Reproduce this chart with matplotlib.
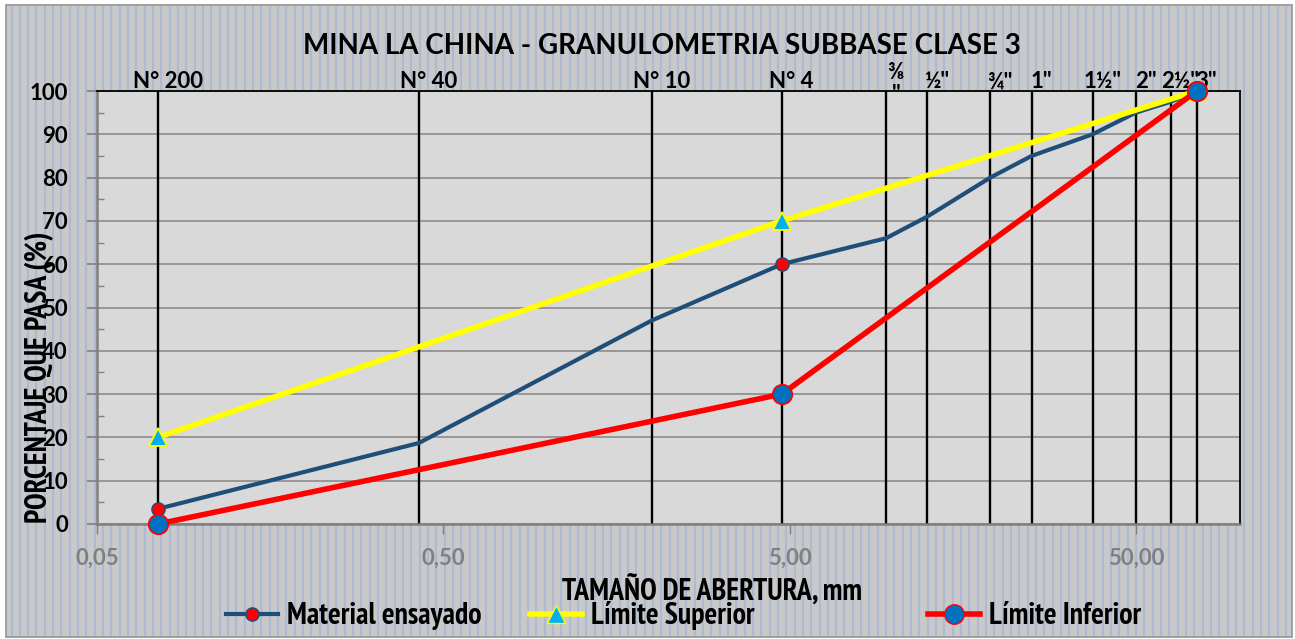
import matplotlib
matplotlib.use('Agg')
import matplotlib.pyplot as plt
from matplotlib.lines import Line2D
from matplotlib.patches import Rectangle
from matplotlib.ticker import FixedLocator, NullLocator
import numpy as np

# ---------------- data ----------------
sieve_sizes = [0.075, 0.425, 2.0, 4.75, 9.5, 12.5, 19.0, 25.0, 37.5, 50.0, 63.0, 75.0]
sieve_labels = ['N° 200', 'N° 40', 'N° 10', 'N° 4', '⅜\n"', '½"', '¾"', '1"', '1½"', '2"', '2½"', '3"']
material_pct = [3.5, 18.7, 47, 60, 66, 71, 80, 85, 90, 95, 97.5, 100]
limit_sizes = [0.075, 4.75, 75.0]
upper_pct = [20, 70, 100]
lower_pct = [0, 30, 100]
x_ticks = [0.05, 0.5, 5.0, 50.0]
x_tick_labels = ['0,05', '0,50', '5,00', '50,00']
y_ticks = list(range(0, 101, 10))
y_minor = list(range(5, 100, 10))

plt.rcParams['font.family'] = ['Lato', 'DejaVu Sans']
plt.rcParams['font.weight'] = 'bold'
NARROW = ['PT Sans Narrow', 'Archivo Narrow', 'DejaVu Sans']
NARROW_SIZE = 21.5

W, H = 1295, 639
fig = plt.figure(figsize=(W / 100, H / 100), dpi=100)
fig.patch.set_facecolor('white')

# background with striped pattern
bg = fig.add_axes([0, 0, 1, 1], zorder=-10)
bg.set_xlim(0, W)
bg.set_ylim(H, 0)
bg.axis('off')
bg.add_patch(Rectangle((6, 5), 1286, 632, facecolor='#C9C9C9', edgecolor='#9A9A9A', lw=1.3))
stripe_x = np.arange(11.5, 1290, 8.33)
bg.vlines(stripe_x, 6, 636, colors='#ADBAD3', lw=1.6)

# main axes
ax = fig.add_axes([97 / W, 1 - 524 / H, (1240 - 97) / W, (524 - 91) / H])
ax.set_facecolor('#D9D9D9')
ax.set_xscale('log')
ax.set_xlim(0.05, 100)
ax.set_ylim(0, 100)

ax.yaxis.grid(True, which='major', color='#8C8C8C', lw=1.2)
ax.set_axisbelow(True)
ax.vlines(sieve_sizes, 0, 100, colors='black', lw=1.7, zorder=2)

ax.plot(sieve_sizes, material_pct, color='#1F4E79', lw=3, marker='o', ms=9.5,
        mfc='#FF0000', mec='#1F4E79', mew=1, markevery=[0, 3, 11], zorder=4, clip_on=False)
ax.plot(limit_sizes, upper_pct, color='#FFFF00', lw=4, marker='^', ms=13,
        mfc='#00B0F0', mec='#FFFF00', mew=1.3, zorder=5, clip_on=False)
ax.plot(limit_sizes, lower_pct, color='#FF0000', lw=4, marker='o', ms=14,
        mfc='#0070C0', mec='#FF0000', mew=1.3, zorder=6, clip_on=False)

# ticks
ax.set_xticks(x_ticks)
ax.set_xticklabels(x_tick_labels)
ax.xaxis.set_minor_locator(NullLocator())
ax.tick_params(axis='x', which='major', direction='out', length=7, width=1,
               color='#808080', labelcolor='#808080', pad=10, labelsize=16)
ax.set_yticks(y_ticks)
ax.yaxis.set_minor_locator(FixedLocator(y_minor))
ax.tick_params(axis='y', which='major', direction='out', length=7, width=1.2,
               color='#808080', labelcolor='black', pad=14, labelsize=16)
ax.tick_params(axis='y', which='minor', direction='in', length=5, width=1, color='#808080')
for lab in ax.get_xticklabels() + ax.get_yticklabels():
    lab.set_fontweight('bold')

for s in ('top', 'right'):
    ax.spines[s].set_color('black')
    ax.spines[s].set_linewidth(1.3)
for s in ('left', 'bottom'):
    ax.spines[s].set_color('#7F7F7F')
    ax.spines[s].set_linewidth(1.8)

# sieve labels above the plot
for size, lab in zip(sieve_sizes, sieve_labels):
    dy = -7.5 if '\n' in lab else 2
    ax.annotate(lab, xy=(size, 1), xycoords=('data', 'axes fraction'),
                xytext=(7, dy), textcoords='offset points', ha='center', va='baseline',
                fontsize=16, fontweight='bold', color='black', linespacing=1.1,
                family=['Lato', 'DejaVu Sans'], annotation_clip=False)

# titles and axis labels
fig.text(662 / W, 1 - 46 / H, 'MINA LA CHINA - GRANULOMETRIA SUBBASE CLASE 3',
         ha='center', va='center', fontsize=20, fontweight='bold', color='black')
fig.text(712 / W, 1 - 590 / H, 'TAMAÑO DE ABERTURA, mm', ha='center', va='center',
         fontsize=NARROW_SIZE, fontweight='bold', family=NARROW, color='black')
fig.text(39 / W, 1 - 377 / H, 'PORCENTAJE QUE PASA (%)', ha='center', va='center',
         rotation=90, fontsize=NARROW_SIZE, fontweight='bold', family=NARROW, color='black')

# legends
handles = [
    Line2D([], [], color='#1F4E79', lw=3, marker='o', ms=9.5, mfc='#FF0000', mec='#1F4E79'),
    Line2D([], [], color='#FFFF00', lw=4, marker='^', ms=13, mfc='#00B0F0', mec='#FFFF00'),
    Line2D([], [], color='#FF0000', lw=4, marker='o', ms=14, mfc='#0070C0', mec='#FF0000'),
]
names = ['Material ensayado', 'Límite Superior', 'Límite Inferior']
starts = [226, 530, 928]
for h, n, x0 in zip(handles, names, starts):
    fig.legend([h], [n], loc='center left', bbox_to_anchor=(x0 / W, 1 - 616 / H),
               frameon=False, borderpad=0, borderaxespad=0, handlelength=1.75,
               handletextpad=0.3, prop={'family': NARROW, 'weight': 'bold', 'size': NARROW_SIZE})

fig.savefig('out.png', dpi=100, facecolor=fig.get_facecolor())
